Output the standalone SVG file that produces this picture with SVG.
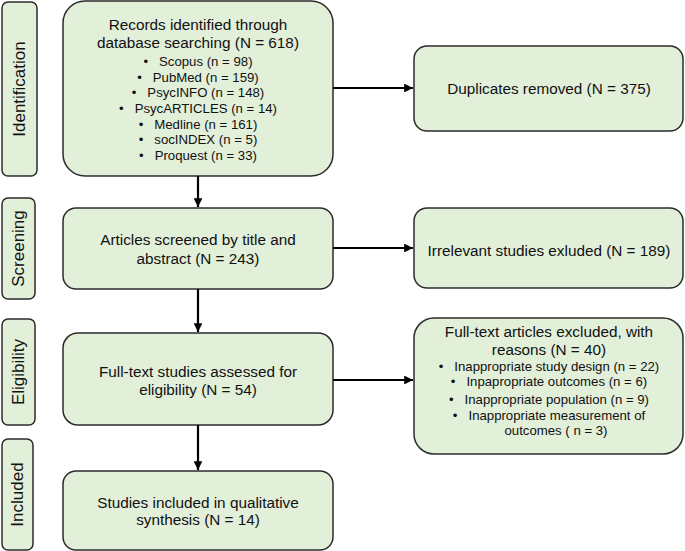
<svg xmlns="http://www.w3.org/2000/svg" width="685" height="551" viewBox="0 0 685 551">
<defs>
<style>
.box{fill:#e2efd9;stroke:#2b2b2b;stroke-width:1.5}
.t{font-family:"Liberation Sans",Arial,sans-serif;font-size:15.3px;fill:#111;text-anchor:middle}
.b{font-family:"Liberation Sans",Arial,sans-serif;font-size:13.2px;fill:#111;text-anchor:middle}
.lab{font-family:"Liberation Sans",Arial,sans-serif;font-size:17px;fill:#111;text-anchor:middle}
.c{stroke:#000;stroke-width:2.2;fill:none}
</style>
<marker id="ah" viewBox="0 0 10 10" refX="10" refY="5" markerWidth="4" markerHeight="4" orient="auto" markerUnits="strokeWidth">
<path d="M0,0 L10,5 L0,10 z" fill="#000"/>
</marker>
</defs>
<rect width="685" height="551" fill="#fff"/>

<g id="label-identification">
<rect class="box" x="2" y="2" width="35" height="174" rx="6"/>
<text class="lab" transform="translate(25,89) rotate(-90)">Identification</text>
</g>
<g id="label-screening">
<rect class="box" x="2" y="198" width="33" height="101" rx="6"/>
<text class="lab" transform="translate(24,248.5) rotate(-90)">Screening</text>
</g>
<g id="label-eligibility">
<rect class="box" x="2" y="319" width="33" height="106" rx="6"/>
<text class="lab" transform="translate(24,372) rotate(-90)">Eligibility</text>
</g>
<g id="label-included">
<rect class="box" x="2" y="439" width="31" height="111" rx="6"/>
<text class="lab" transform="translate(23,494.5) rotate(-90)">Included</text>
</g>

<g id="records">
<rect class="box" x="63" y="1" width="270" height="175" rx="22"/>
<text class="t" x="198" y="30">Records identified through</text>
<text class="t" x="198" y="48">database searching (N = 618)</text>
<text class="b" x="198" y="66">•&#160;&#160;&#160;Scopus (n = 98)</text>
<text class="b" x="198" y="81.5">•&#160;&#160;&#160;PubMed (n = 159)</text>
<text class="b" x="198" y="97">•&#160;&#160;&#160;PsycINFO (n = 148)</text>
<text class="b" x="198" y="113">•&#160;&#160;&#160;PsycARTICLES (n = 14)</text>
<text class="b" x="198" y="128.5">•&#160;&#160;&#160;Medline (n = 161)</text>
<text class="b" x="198" y="144">•&#160;&#160;&#160;socINDEX (n = 5)</text>
<text class="b" x="198" y="160">•&#160;&#160;&#160;Proquest (n = 33)</text>
</g>

<g id="duplicates">
<rect class="box" x="414" y="46" width="269" height="85" rx="13"/>
<text class="t" x="549" y="94">Duplicates removed (N = 375)</text>
</g>

<g id="screened">
<rect class="box" x="63" y="208" width="270" height="81" rx="13"/>
<text class="t" x="198" y="245">Articles screened by title and</text>
<text class="t" x="198" y="264">abstract (N = 243)</text>
</g>

<g id="irrelevant">
<rect class="box" x="414" y="208" width="269" height="80" rx="13"/>
<text class="t" x="549" y="256">Irrelevant studies exluded (N = 189)</text>
</g>

<g id="fulltext">
<rect class="box" x="63" y="333" width="270" height="92" rx="15"/>
<text class="t" x="198" y="377">Full-text studies assessed for</text>
<text class="t" x="198" y="395">eligibility (N = 54)</text>
</g>

<g id="excluded">
<rect class="box" x="414" y="318" width="269" height="136" rx="20"/>
<text class="t" x="549" y="337">Full-text articles excluded, with</text>
<text class="t" x="549" y="355">reasons (N = 40)</text>
<text class="b" x="549" y="371">•&#160;&#160;&#160;Inappropriate study design (n = 22)</text>
<text class="b" x="549" y="386">•&#160;&#160;&#160;Inpapropriate outcomes (n = 6)</text>
<text class="b" x="549" y="404">•&#160;&#160;&#160;Inappropriate population (n = 9)</text>
<text class="b" x="549" y="420">•&#160;&#160;&#160;Inappropriate measurement of</text>
<text class="b" x="556" y="435">outcomes ( n = 3)</text>
</g>

<g id="included">
<rect class="box" x="63" y="471" width="270" height="79" rx="13"/>
<text class="t" x="198" y="508">Studies included in qualitative</text>
<text class="t" x="198" y="525">synthesis (N = 14)</text>
</g>

<g id="connectors">
<line class="c" x1="333" y1="88" x2="413" y2="88" marker-end="url(#ah)"/>
<line class="c" x1="333" y1="248" x2="413" y2="248" marker-end="url(#ah)"/>
<line class="c" x1="333" y1="380" x2="413" y2="380" marker-end="url(#ah)"/>
<line class="c" x1="198" y1="176" x2="198" y2="207" marker-end="url(#ah)"/>
<line class="c" x1="198" y1="289" x2="198" y2="332" marker-end="url(#ah)"/>
<line class="c" x1="198" y1="425" x2="198" y2="470" marker-end="url(#ah)"/>
</g>
</svg>
